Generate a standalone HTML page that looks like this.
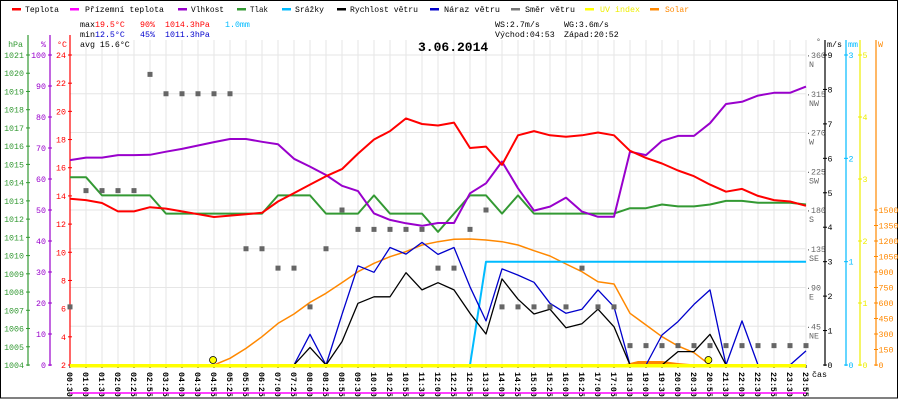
<!DOCTYPE html>
<html><head><meta charset="utf-8">
<style>
html,body{margin:0;padding:0;background:#fff;}
svg{display:block;font-family:"Liberation Mono","DejaVu Sans Mono",monospace;}
</style></head>
<body>
<svg id="chart" width="900" height="400" viewBox="0 0 900 400" xmlns="http://www.w3.org/2000/svg">
<rect x="0.5" y="0.5" width="897" height="397.5" fill="#fff" stroke="#000" stroke-width="1"/>
<g id="grid"></g>
<g id="legend" font-size="8.5">
 <g><rect x="12" y="8" width="9" height="2.5" fill="#f00"/><text x="25" y="12" textLength="34" lengthAdjust="spacingAndGlyphs">Teplota</text></g>
 <g><rect x="70" y="8" width="9" height="2.5" fill="#f0f"/><text x="85" y="12" textLength="79" lengthAdjust="spacingAndGlyphs">Přízemní teplota</text></g>
 <g><rect x="178" y="8" width="9" height="2.5" fill="#90c"/><text x="191" y="12" textLength="33" lengthAdjust="spacingAndGlyphs">Vlhkost</text></g>
 <g><rect x="237" y="8" width="9" height="2.5" fill="#393"/><text x="250" y="12" textLength="18" lengthAdjust="spacingAndGlyphs">Tlak</text></g>
 <g><rect x="282" y="8" width="9" height="2.5" fill="#0bf"/><text x="295" y="12" textLength="29" lengthAdjust="spacingAndGlyphs">Srážky</text></g>
 <g><rect x="337" y="8" width="9" height="2.5" fill="#000"/><text x="350" y="12" textLength="68" lengthAdjust="spacingAndGlyphs">Rychlost větru</text></g>
 <g><rect x="430" y="8" width="9" height="2.5" fill="#00c"/><text x="444" y="12" textLength="56" lengthAdjust="spacingAndGlyphs">Náraz větru</text></g>
 <g><rect x="511" y="8" width="9" height="2.5" fill="#777"/><text x="525" y="12" textLength="50" lengthAdjust="spacingAndGlyphs">Směr větru</text></g>
 <g><rect x="585" y="8" width="9" height="2.5" fill="#ff0"/><text x="600" y="12" fill="#ee0" textLength="40" lengthAdjust="spacingAndGlyphs">UV index</text></g>
 <g><rect x="650" y="8" width="9" height="2.5" fill="#f80"/><text x="665" y="12" fill="#f80" textLength="24" lengthAdjust="spacingAndGlyphs">Solar</text></g>
</g>
<g font-size="8.3">
 <text x="80" y="27">max</text><text x="95" y="27" fill="#f00">19.5°C</text><text x="140" y="27" fill="#f00">90%</text><text x="165" y="27" fill="#f00">1014.3hPa</text><text x="225" y="27" fill="#0bf">1.0mm</text>
 <text x="80" y="37">min</text><text x="95" y="37" fill="#00c">12.5°C</text><text x="140" y="37" fill="#00c">45%</text><text x="165" y="37" fill="#00c">1011.3hPa</text>
 <text x="80" y="47">avg 15.6°C</text>
 <text x="495" y="27">WS:2.7m/s</text><text x="564" y="27">WG:3.6m/s</text>
 <text x="495" y="37">Východ:04:53</text><text x="564" y="37">Západ:20:52</text>
</g>
<text x="418" y="51" font-size="13" font-weight="bold">3.06.2014</text>
<g id="axes"></g>
<g id="series"></g>
</svg>
<script>
const labels=["00:30","01:00","01:30","02:00","02:25","02:55","03:25","04:00","04:30","04:55","05:25","05:55","06:25","07:00","07:25","08:00","08:25","08:55","09:30","10:00","10:25","10:55","11:30","12:00","12:25","12:55","13:30","14:00","14:25","15:00","15:25","16:00","16:25","17:00","17:05","18:30","19:00","19:30","20:00","20:30","20:55","21:30","22:00","22:30","22:55","23:30","23:55"];
const temperature=[13.8,13.7,13.5,12.9,12.9,13.2,13.1,12.9,12.7,12.5,12.6,12.7,12.8,13.6,14.2,14.8,15.4,15.9,17.0,18.0,18.6,19.5,19.1,19.0,19.2,17.4,17.5,16.2,18.3,18.6,18.3,18.2,18.3,18.5,18.3,17.2,16.7,16.3,15.8,15.4,14.8,14.3,14.5,14.0,13.7,13.6,13.3];
const humidity=[66.1,66.9,66.9,67.7,67.7,67.8,68.8,69.7,70.8,71.9,72.9,72.9,72.0,71.2,66.5,64.0,61.3,57.8,56.1,48.9,46.8,45.7,44.9,45.8,45.8,55.4,58.6,65.6,57.0,49.8,51.1,54.0,49.5,47.8,47.8,68.8,67.7,72.3,73.9,73.9,78.0,84.2,84.9,86.9,87.8,87.8,89.8];
const pressure=[1014.3,1014.3,1013.3,1013.3,1013.3,1013.3,1012.3,1012.3,1012.3,1012.3,1012.3,1012.3,1012.3,1013.3,1013.3,1013.3,1012.3,1012.3,1012.3,1013.3,1012.3,1012.3,1012.3,1011.3,1012.3,1013.3,1013.3,1012.3,1013.3,1012.3,1012.3,1012.3,1012.3,1012.3,1012.3,1012.6,1012.6,1012.8,1012.7,1012.7,1012.8,1013.0,1013.0,1012.9,1012.9,1012.9,1012.8];
const windSpeed=[0,0,0,0,0,0,0,0,0,0,0,0,0,0,0,0.51,0,0.68,1.79,1.98,1.98,2.68,2.18,2.39,2.18,1.5,0.9,2.5,1.91,1.48,1.62,1.08,1.2,1.62,1.11,0,0,0,0.39,0.39,0.89,0,0,0,0,0,0];
const windGust=[0,0,0,0,0,0,0,0,0,0,0,0,0,0,0,0.89,0,1.47,2.88,2.69,3.41,3.22,3.56,3.21,3.41,2.27,1.28,2.79,2.61,2.4,1.79,1.5,1.62,2.18,1.69,0,0,0.87,1.26,1.76,2.18,0,1.28,0,0,0,0.41];
const windDir=[67.5,202.5,202.5,202.5,202.5,337.5,315,315,315,315,315,135,135,112.5,112.5,67.5,135,180,157.5,157.5,157.5,157.5,157.5,112.5,112.5,157.5,180,67.5,67.5,67.5,67.5,67.5,112.5,67.5,67.5,22.5,22.5,22.5,22.5,22.5,22.5,22.5,22.5,22.5,22.5,22.5,22.5];
const solar=[0,0,0,0,0,0,0,0,0,0,65,161,274,403,494,606,694,797,903,984,1048,1097,1161,1193,1216,1219,1210,1193,1161,1106,1055,977,903,806,784,500,387,274,184,119,0,0,0,0,0,0,0];
const rain=[0,0,0,0,0,0,0,0,0,0,0,0,0,0,0,0,0,0,0,0,0,0,0,0,0,0,1.0,1.0,1.0,1.0,1.0,1.0,1.0,1.0,1.0,1.0,1.0,1.0,1.0,1.0,1.0,1.0,1.0,1.0,1.0,1.0,1.0];
const uv=labels.map(()=>0);
const sunEvents=[8.94,39.9];
const hpaTicks=[1004,1005,1006,1007,1008,1009,1010,1011,1012,1013,1014,1015,1016,1017,1018,1019,1020,1021];
const pctTicks=[0,10,20,30,40,50,60,70,80,90,100];
const tempTicks=[2,4,6,8,10,12,14,16,18,20,22,24];
const dirTicks=[45,90,135,180,225,270,315,360];
const dirNames=["NE","E","SE","S","SW","W","NW","N"];
const msTicks=[0,1,2,3,4,5,6,7,8,9];
const mmTicks=[0,1,2,3];
const uvTicks=[0,1,2,3,4,5];
const wTicks=[0,150,300,450,600,750,900,1050,1200,1350,1500];

const NS="http://www.w3.org/2000/svg";
const FS='8.3';
const X0=70,DX=16,YB=365,H=310;
const x=i=>X0+i*DX;
const yT=t=>YB-(t-2)*H/22;
const yH=h=>YB-h*H/100;
const yP=p=>YB-(p-1004)*H/17;
const yV=v=>YB-v*H/9;
const yD=d=>YB-d*H/360;
const yS=w=>YB-w*H/3000;
const yR=m=>YB-m*H/3;
const yU=u=>YB-u*H/5;
function mk(tag,attrs,parent){const e=document.createElementNS(NS,tag);for(const k in attrs)e.setAttribute(k,attrs[k]);parent.appendChild(e);return e;}
const grid=document.getElementById('grid'),axes=document.getElementById('axes'),ser=document.getElementById('series');
for(let i=1;i<labels.length;i++){const l=mk('line',{x1:x(i),x2:x(i),y1:40,y2:YB,stroke:'#e6e6e6'},grid);

}
for(const d of dirTicks){const l=mk('line',{x1:X0,x2:x(labels.length-1),y1:yD(d),y2:yD(d),stroke:'#e6e6e6'},grid);

}
labels.forEach((s,i)=>{mk('line',{x1:x(i),x2:x(i),y1:YB,y2:YB+3,stroke:'#000'},axes);
const t=mk('text',{x:0,y:0,'font-size':FS,'font-weight':'bold',transform:`translate(${x(i)-3},372) rotate(90)`},axes);t.textContent=s;

});
const cas=mk('text',{x:812,y:377,'font-size':FS},axes);cas.textContent='čas';


function vAxis(ax,color,ticks,yf,title,tx){
 mk('line',{x1:ax,x2:ax,y1:35,y2:YB+1,stroke:color,'stroke-width':1.2},axes);
 const tt=mk('text',{x:tx,y:47,fill:color,'font-size':FS,'text-anchor':'end'},axes);tt.textContent=title;
 
 
 for(const v of ticks){const yy=yf(v);mk('line',{x1:ax-2,x2:ax+2,y1:yy,y2:yy,stroke:color},axes);
  const t=mk('text',{x:ax-4,y:yy+3,fill:color,'font-size':FS,'text-anchor':'end'},axes);t.textContent=v;
  
  }
}
vAxis(28,'#393',hpaTicks,yP,'hPa',23);
vAxis(50,'#90c',pctTicks,yH,'%',46);
vAxis(70,'#f00',tempTicks,yT,'°C',67);
mk('line',{x1:X0,x2:x(labels.length-1),y1:YB+1.5,y2:YB+1.5,stroke:'#ff0','stroke-width':2},axes);
mk('line',{x1:X0,x2:x(labels.length-1),y1:YB,y2:YB,stroke:'#000','stroke-width':1},axes);
const dt=mk('text',{x:816,y:44,fill:'#555','font-size':FS},axes);dt.textContent='°';
dirTicks.forEach((d,k)=>{const yy=yD(d);const t=mk('text',{x:806,y:yy+3,fill:'#666','font-size':FS},axes);t.textContent='·'+d;


const n=mk('text',{x:809,y:yy+12,fill:'#666','font-size':FS},axes);n.textContent=dirNames[k];

});
function rAxis(ax,color,ticks,yf,title){
 mk('line',{x1:ax,x2:ax,y1:40,y2:YB+1,stroke:color,'stroke-width':1.2},axes);
 if(title){const tt=mk('text',{x:ax+2,y:47,fill:color,'font-size':FS},axes);tt.textContent=title;
 
 }
 for(const v of ticks){const yy=yf(v);mk('line',{x1:ax-2,x2:ax+2,y1:yy,y2:yy,stroke:color},axes);
  const t=mk('text',{x:ax+2.5,y:yy+3,fill:color,'font-size':FS},axes);t.textContent=v;
  
  }
}
rAxis(825,'#000',msTicks,yV,'m/s');
rAxis(846,'#0bf',mmTicks,yR,'mm');
rAxis(860,'#ee0',uvTicks,yU,'');
rAxis(876,'#f80',wTicks,yS,'W');
function line(vals,yf,color,w,name){const p=mk('polyline',{points:vals.map((v,i)=>x(i)+','+yf(v).toFixed(1)).join(' '),fill:'none',stroke:color,'stroke-width':w,'stroke-linejoin':'round'},ser);

return p;}
const blob=mk('polygon',{points:`${x(34.5)},${YB} ${x(35.5)},${YB-4} ${x(37)},${YB-4} ${x(38)},${YB-2} ${x(39.5)},${YB}`,fill:'#f80'},ser);


line(solar,yS,'#f80',1.5,'solar-line');
line(rain,yR,'#0bf',2,'rain-line');
line(pressure,yP,'#393',2,'pressure-line');
line(humidity,yH,'#90c',2,'humidity-line');
line(temperature,yT,'#f00',2,'temperature-line');
line(windGust,yV,'#00c',1.3,'gust-line');
line(windSpeed,yV,'#000',1.3,'wind-speed-line');
line(uv,yU,'#ff0',2,'uv-line');
windDir.forEach((d,i)=>{const r=mk('rect',{x:x(i)-2.5,y:yD(d)-2.5,width:5,height:5,fill:'#666'},ser);

});
sunEvents.forEach(s=>{const c=mk('circle',{cx:x(s),cy:YB-5,r:3.5,fill:'#ff0',stroke:'#000','stroke-width':0.8},ser);

});
const ap=mk('line',{x1:X0,x2:x(labels.length-1),y1:393,y2:393,stroke:'#f0f','stroke-width':1.5},ser);


</script>
</body></html>
